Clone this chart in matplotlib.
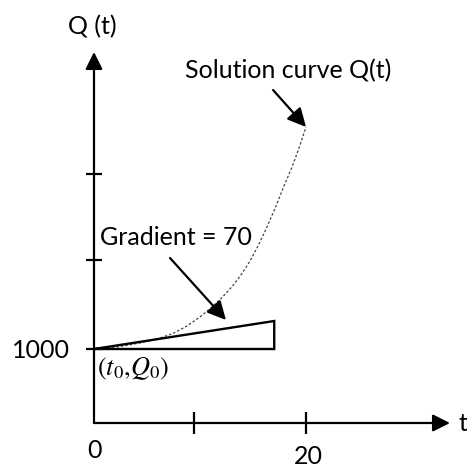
import matplotlib
matplotlib.use("Agg")
import matplotlib.pyplot as plt

# ---------------- data ----------------
t_curve = [0, 2.45, 4.34, 5.94, 7.45, 8.77, 10.0, 11.13, 12.17, 13.11, 13.96,
           14.72, 15.47, 16.23, 17.17, 17.92, 18.68, 19.34, 20.0]
Q_curve = [1000, 1106, 1255, 1425, 1659, 1978, 2360, 2785, 3231, 3699, 4209,
           4740, 5378, 6100, 7078, 7928, 8735, 9543, 10435]

gradient = 70
tri_t = [0, 17, 17, 0]
tri_Q = [1000, 2190, 1000, 1000]

x_ticks = [0, 9.43, 20]
x_tick_labels = ["0", "", "20"]
y_ticks = [1000, 4782, 8437]
y_tick_labels = ["1000", "", ""]

# ---------------- layout ----------------
W, H = 467, 469
FONT = "Lato"
FS = 18

plt.rcParams["mathtext.fontset"] = "stix"
fig = plt.figure(figsize=(W / 100, H / 100), dpi=100)
# axes box in pixels: left 94, right 450, top 52, bottom 423
ax = fig.add_axes([94 / W, (H - 423) / H, (450 - 94) / W, (423 - 52) / H])
ax.set_xlim(0, 33.58)
ax.set_ylim(-2145, 13622)
for s in ax.spines.values():
    s.set_visible(False)
ax.patch.set_alpha(0)


def fp(x, y):
    return (x / W, 1 - y / H)


# axis lines with arrowheads
arrow_kw = dict(arrowstyle="-|>", lw=1.6, color="k", mutation_scale=26,
                shrinkA=0, shrinkB=0)
ax.annotate("", xy=(0, 1), xytext=(0, 0), xycoords="axes fraction",
            textcoords="axes fraction", arrowprops=arrow_kw, annotation_clip=False)
ax.annotate("", xy=(1, 0), xytext=(0, 0), xycoords="axes fraction",
            textcoords="axes fraction", arrowprops=arrow_kw, annotation_clip=False)

# ticks
ax.set_xticks(x_ticks)
ax.set_xticklabels([""] * len(x_ticks))
ax.set_yticks(y_ticks)
ax.set_yticklabels([""] * len(y_ticks))
ax.tick_params(axis="x", direction="inout", length=16, width=1.6)
ax.tick_params(axis="y", direction="inout", length=11, width=1.6)
ax.xaxis.get_major_ticks()[0].tick1line.set_visible(False)

# solution curve (dotted)
ax.plot(t_curve, Q_curve, color="#444444", lw=0.9, linestyle=(0, (2, 1.6)))

# gradient triangle
ax.plot(tri_t, tri_Q, color="k", lw=1.7, solid_joinstyle="miter")

# annotation arrows
ann_kw = dict(arrowstyle="-|>", lw=1.6, color="k", mutation_scale=28,
              shrinkA=0, shrinkB=0)
ax.annotate("", xy=(t_curve[-1], Q_curve[-1]), xytext=(16.89, 12007),
            arrowprops=ann_kw)
ax.annotate("", xy=(12.45, 2232), xytext=(7.17, 4867), arrowprops=ann_kw)

# texts
tk = dict(fontfamily=FONT, fontsize=FS, color="k")
fig.text(*fp(92, 34), "Q (t)", ha="center", va="baseline", **tk)
fig.text(*fp(288, 78), "Solution curve Q(t)", ha="center", va="baseline", **tk)
fig.text(*fp(175.5, 245), "Gradient = 70", ha="center", va="baseline", **tk)
fig.text(*fp(70, 358), y_tick_labels[0], ha="right", va="baseline", **tk)
fig.text(*fp(95, 458), x_tick_labels[0], ha="center", va="baseline", **tk)
fig.text(*fp(308, 464), x_tick_labels[2], ha="center", va="baseline", **tk)
fig.text(*fp(467, 431), "t", ha="right", va="baseline", **tk)
fig.text(*fp(97, 375), r"$(t_0{,}Q_0)$", ha="left", va="baseline", fontsize=19)

fig.savefig("out.png", dpi=100)
